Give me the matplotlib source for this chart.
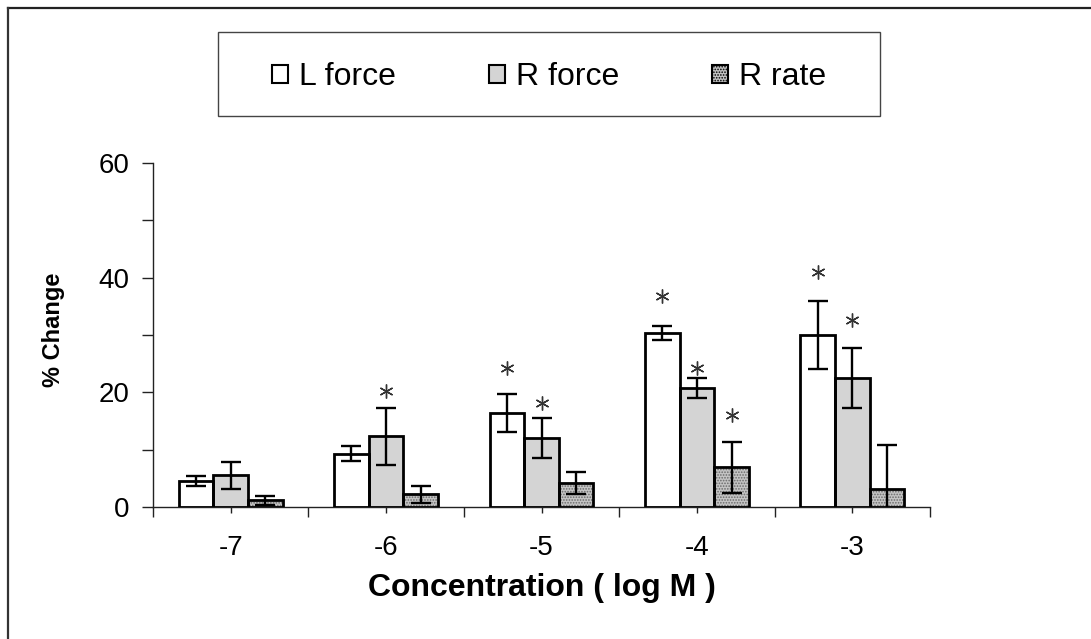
import matplotlib
matplotlib.use('Agg')
import matplotlib.pyplot as plt
import numpy as np
from matplotlib.patches import Patch, Rectangle
from matplotlib.lines import Line2D

# ---------------- data ----------------
concentrations = ['-7', '-6', '-5', '-4', '-3']
series_names = ['L force', 'R force', 'R rate']

l_force = [4.5, 9.3, 16.4, 30.4, 30.0]
l_force_err = [0.9, 1.35, 3.25, 1.2, 6.0]
r_force = [5.5, 12.3, 12.0, 20.8, 22.5]
r_force_err = [2.3, 5.0, 3.45, 1.75, 5.15]
r_rate = [1.2, 2.2, 4.2, 6.9, 3.1]
r_rate_err = [0.8, 1.5, 1.9, 4.4, 7.8]

# significance asterisks: (group index, series index, height)
star_group = [1, 2, 2, 3, 3, 3, 4, 4]
star_series = [1, 0, 1, 0, 1, 2, 0, 1]
star_y = [20.3, 24.3, 18.1, 36.8, 24.3, 16.0, 41.0, 32.6]

y_ticks = [0, 20, 40, 60]
y_minor = [10, 30, 50]

# ---------------- style ----------------
plt.rcParams['font.family'] = ['Liberation Sans', 'DejaVu Sans']
plt.rcParams['hatch.linewidth'] = 0.8

W, H = 1091, 639
fig = plt.figure(figsize=(W / 100, H / 100), dpi=100)
ax = fig.add_axes([153 / W, 1 - 507 / H, 777 / W, 344 / H])

x = np.arange(len(concentrations))
w = 0.223
offsets = [-w, 0.0, w]
values = [l_force, r_force, r_rate]
errors = [l_force_err, r_force_err, r_rate_err]
faces = ['white', '#d4d4d4', '#c4c4c4']
hatches = [None, None, '......']
hatch_cols = [None, None, '#6a6a6a']

for vals, errs, off, fc, ht, hc in zip(values, errors, offsets, faces, hatches, hatch_cols):
    if ht:
        ax.bar(x + off, vals, w, color=fc, hatch=ht, edgecolor=hc, linewidth=0, zorder=2)
    else:
        ax.bar(x + off, vals, w, color=fc, linewidth=0, zorder=2)
    ax.bar(x + off, vals, w, fill=False, edgecolor='black', linewidth=2.0, zorder=3)
    ax.errorbar(x + off, vals, yerr=errs, fmt='none', ecolor='black',
                elinewidth=1.7, capsize=7, capthick=1.7, zorder=4)

for g, s, yy in zip(star_group, star_series, star_y):
    ax.plot(x[g] + offsets[s], yy, marker=(6, 2, 0), ms=10, mew=1.0,
            color='#333333', ls='none', zorder=5)

ax.set_xlim(-0.5, len(concentrations) - 0.5)
ax.set_ylim(0, 60)
ax.set_xticks(x)
ax.set_xticklabels(concentrations)
ax.set_xticks(np.arange(-0.5, len(concentrations), 1.0), minor=True)
ax.set_yticks(y_ticks)
ax.set_yticks(y_minor, minor=True)

ax.tick_params(axis='x', which='major', length=4, width=1, direction='out',
               pad=16, labelsize=20, colors='#222222')
ax.tick_params(axis='x', which='minor', length=7, width=1, direction='out', colors='#222222')
ax.tick_params(axis='y', which='both', length=8, width=1, direction='out', colors='#222222')
ax.tick_params(axis='y', which='major', pad=9, labelsize=20)
for lab in ax.get_xticklabels() + ax.get_yticklabels():
    lab.set_color('black')

for sp in ['top', 'right']:
    ax.spines[sp].set_visible(False)
for sp in ['left', 'bottom']:
    ax.spines[sp].set_color('#222222')
    ax.spines[sp].set_linewidth(1.0)

ax.set_ylabel('% Change', fontsize=17, fontweight='bold')
ax.yaxis.set_label_coords(-0.1287, 0.515)
ax.yaxis.label.set_va('center')
ax.set_xlabel('Concentration ( log M )', fontsize=23, fontweight='bold')
ax.xaxis.set_label_coords(0.5, -0.235)
ax.xaxis.label.set_va('center')

# legend
handles = [Patch(facecolor=faces[i], edgecolor='black', linewidth=1.5,
                 hatch=hatches[i]) for i in range(3)]
fig.legend(handles, series_names, loc='center', bbox_to_anchor=(549 / W, 1 - 77 / H),
           ncol=3, frameon=False, fontsize=23, handlelength=0.5, handleheight=0.5,
           handletextpad=0.35, columnspacing=2.9)
fig.add_artist(Rectangle((218 / W, 1 - 116 / H), 662 / W, 84 / H, transform=fig.transFigure,
                         fill=False, edgecolor='#444444', linewidth=1.0))

# outer frame (top and left)
fig.add_artist(Line2D([8 / W, 1.0], [1 - 8 / H, 1 - 8 / H], transform=fig.transFigure,
                      color='#222222', linewidth=1.6))
fig.add_artist(Line2D([8 / W, 8 / W], [0.0, 1 - 8 / H], transform=fig.transFigure,
                      color='#333333', linewidth=1.6))

fig.savefig('out.png', dpi=100)
